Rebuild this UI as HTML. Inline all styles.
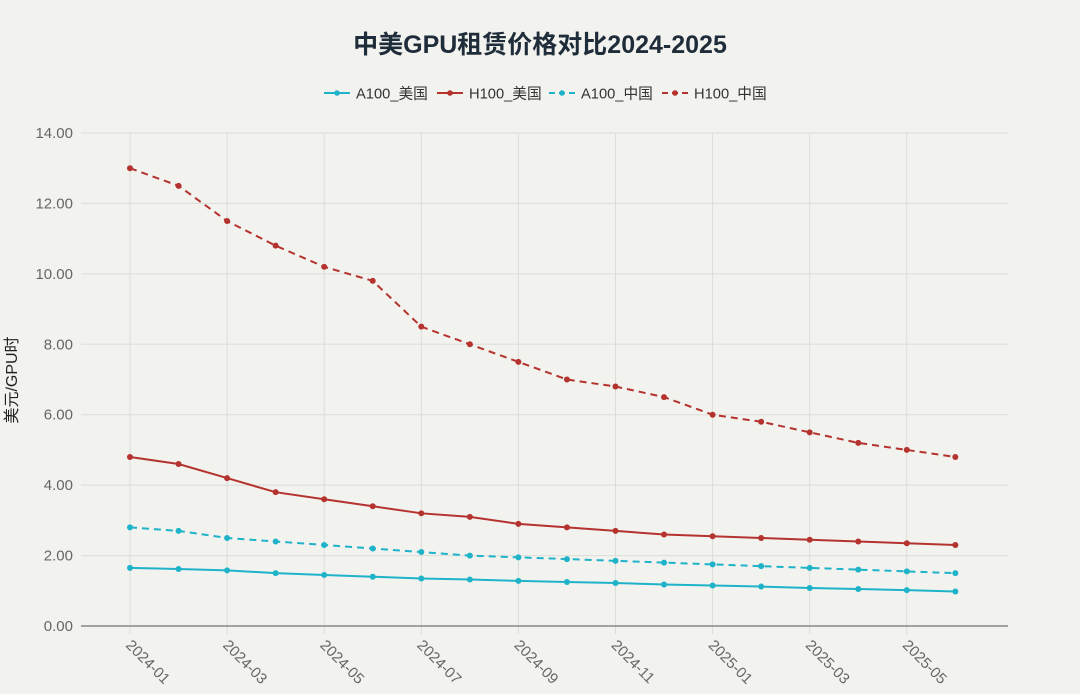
<!DOCTYPE html>
<html><head><meta charset="utf-8">
<style>
html,body{margin:0;padding:0;background:#f2f2ef;}
svg{display:block;font-family:"Liberation Sans","Noto Sans CJK SC",sans-serif;}
</style></head>
<body>
<svg id="chart" width="1080" height="694" viewBox="0 0 1080 694" xmlns="http://www.w3.org/2000/svg">
<rect width="1080" height="694" fill="#f2f2ef"/>
<text x="540" y="53" text-anchor="middle" font-size="25" font-weight="bold" fill="#1f2d3a">中美GPU租赁价格对比2024-2025</text>
<text transform="translate(17,380) rotate(-90)" text-anchor="middle" font-size="16" fill="#222">美元/GPU时</text>
<g id="grid"></g><g id="axes"></g><g id="series"></g><g id="legend"></g>
</svg>
<script>
const months = ["2024-01","2024-02","2024-03","2024-04","2024-05","2024-06","2024-07","2024-08","2024-09","2024-10","2024-11","2024-12","2025-01","2025-02","2025-03","2025-04","2025-05","2025-06"];
const a100US = [1.65,1.62,1.58,1.5,1.45,1.4,1.35,1.32,1.28,1.25,1.22,1.18,1.15,1.12,1.08,1.05,1.02,0.98];
const h100US = [4.8,4.6,4.2,3.8,3.6,3.4,3.2,3.1,2.9,2.8,2.7,2.6,2.55,2.5,2.45,2.4,2.35,2.3];
const a100CN = [2.8,2.7,2.5,2.4,2.3,2.2,2.1,2.0,1.95,1.9,1.85,1.8,1.75,1.7,1.65,1.6,1.55,1.5];
const h100CN = [13,12.5,11.5,10.8,10.2,9.8,8.5,8.0,7.5,7.0,6.8,6.5,6.0,5.8,5.5,5.2,5.0,4.8];
const yTicks = [0,2,4,6,8,10,12,14];
const seriesNames = ["A100_美国","H100_美国","A100_中国","H100_中国"];

const NS="http://www.w3.org/2000/svg";
const X0=130, DX=48.55, Y0=626, YS=493/14;
const xs=i=>X0+i*DX, ys=v=>Y0-v*YS;
function mk(tag,attrs,parent){const e=document.createElementNS(NS,tag);for(const k in attrs)e.setAttribute(k,attrs[k]);parent.appendChild(e);return e;}
const grid=document.getElementById('grid'), axes=document.getElementById('axes'), ser=document.getElementById('series'), leg=document.getElementById('legend');

yTicks.forEach(v=>{
  if(v>0){const l=mk('line',{x1:81,x2:1008,y1:ys(v),y2:ys(v),stroke:'#dcdcd8','stroke-width':1},grid);
  
  }
  const t=mk('text',{x:73,y:ys(v)+5,'text-anchor':'end','font-size':15,fill:'#666'},axes);
  t.textContent=v.toFixed(2);
  
  
});
months.forEach((m,i)=>{
  if(i%2) return;
  const l=mk('line',{x1:xs(i),x2:xs(i),y1:133,y2:634,stroke:'#dcdcd8','stroke-width':1},grid);
  
  
  const t=mk('text',{x:0,y:0,'font-size':15,fill:'#666',transform:`translate(${xs(i)-5},${646}) rotate(45)`},axes);
  t.textContent=m;
  
  
});
const ax=mk('line',{x1:81,x2:1008,y1:Y0,y2:Y0,stroke:'#888','stroke-width':1.5},axes);



const defs=[[a100US,'#1fb3c9',''],[h100US,'#b5332e',''],[a100CN,'#1fb3c9','7,5'],[h100CN,'#b5332e','7,5']];
defs.forEach((d,k)=>{
  const g=mk('g',{},ser);
  
  
  const pts=d[0].map((v,i)=>xs(i)+','+ys(v)).join(' ');
  const pl=mk('polyline',{points:pts,fill:'none',stroke:d[1],'stroke-width':2,'stroke-dasharray':d[2]},g);
  
  
  d[0].forEach((v,i)=>{
    const c=mk('circle',{cx:xs(i),cy:ys(v),r:3,fill:d[1]},g);
    
    
  });
});

const legX=[324,437,549,662];
seriesNames.forEach((n,k)=>{
  const g=mk('g',{},leg);
  
  
  const x=legX[k], y=93;
  mk('line',{x1:x,x2:x+26,y1:y,y2:y,stroke:defs[k][1],'stroke-width':2,'stroke-dasharray':defs[k][2]?'6,4':''},g);
  mk('circle',{cx:x+13,cy:y,r:2.8,fill:defs[k][1]},g);
  const t=mk('text',{x:x+32,y:y+5.5,'font-size':14.7,fill:'#333'},g);
  t.textContent=n;
});
</script>
</body></html>
